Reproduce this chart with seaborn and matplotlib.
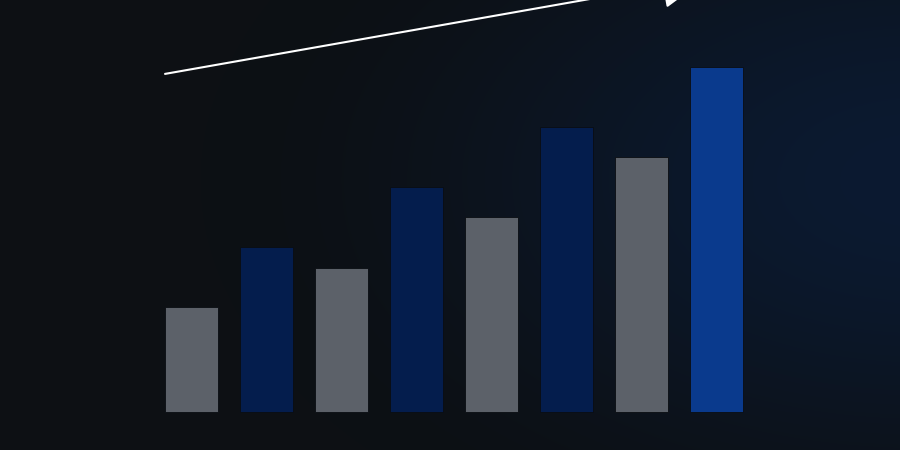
import matplotlib.pyplot as plt
import matplotlib.colors as mcolors
import numpy as np
import seaborn as sns

# bar data
categories = ["1", "2", "3", "4", "5", "6", "7", "8"]
values = [35, 55, 48, 75, 65, 95, 85, 115]
bar_colors = ["#5c6169", "#041d4d", "#5c6169", "#041d4d",
              "#5c6169", "#041d4d", "#5c6169", "#0a3a8d"]

# trend arrow, start and tip in data units
arrow_start = (-0.353, 112.7)
arrow_tip = (6.86, 144.5)

sns.set_theme(style="white")

fig = plt.figure(figsize=(9, 4.5), dpi=100)
ax = fig.add_axes([0, 0, 1, 1])

# background glow: dark left, navy toward the right
h, w = 450, 900
yy, xx = np.mgrid[0:h, 0:w]
d = np.sqrt(((xx - 920) / 720.0) ** 2 + ((yy - 180) / 420.0) ** 2)
t = np.clip(1 - d, 0, 1)
t = t * t * (3 - 2 * t)
base = np.array(mcolors.to_rgb("#0d1014"))
glow = np.array(mcolors.to_rgb("#0b1a31"))
img = base[None, None, :] * (1 - t[..., None]) + glow[None, None, :] * t[..., None]
ax.imshow(img, extent=[0, 1, 0, 1], transform=ax.transAxes, aspect="auto",
          zorder=0, interpolation="bilinear")

sns.barplot(x=categories, y=values, hue=categories, palette=bar_colors,
            legend=False, width=53 / 75, saturation=1, ax=ax, zorder=2,
            edgecolor="#0a0d12", linewidth=0.6)

ax.set_xlim((0 - 191.5) / 75, (900 - 191.5) / 75)
ax.set_ylim((412 - 450) / 3, 412 / 3)
ax.set_axis_off()

ax.annotate("", xy=arrow_tip, xytext=arrow_start,
            arrowprops=dict(arrowstyle="-|>,head_length=2.9,head_width=1.45",
                            mutation_scale=10, color="white", lw=1.5,
                            shrinkA=0, shrinkB=0),
            annotation_clip=False, zorder=3)

fig.savefig("out.png", dpi=100, facecolor="#0d1014")
